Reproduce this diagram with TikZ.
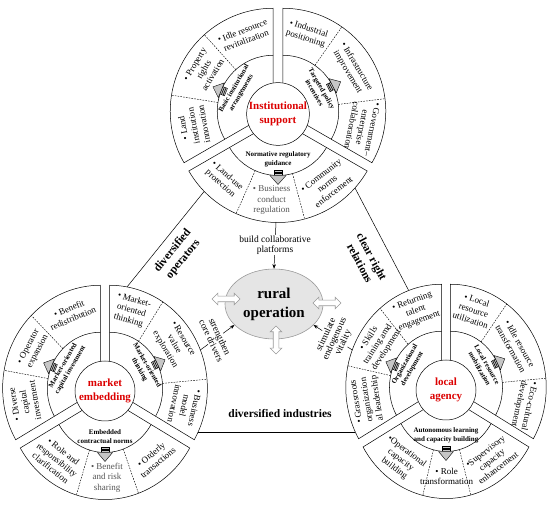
\documentclass[tikz,border=0pt]{standalone}
\usepackage{fontspec}
\setmainfont{Liberation Serif}
\usetikzlibrary{arrows.meta,shapes.arrows,shapes.geometric}
\definecolor{corered}{RGB}{220,0,0}
\definecolor{gtext}{RGB}{85,85,85}
\tikzset{
 ln/.style={line width=0.5pt},
 dshl/.style={line width=0.45pt, dash pattern=on 1.6pt off 1.2pt},
 cell/.style={font=\fontsize{9}{10.5}\selectfont, align=center, inner sep=0pt},
 midl/.style={font=\bfseries\fontsize{7}{8.5}\selectfont, align=center, inner sep=0pt},
 core/.style={circle, draw, line width=0.5pt, fill=white, minimum size=60pt, inner sep=0pt, font=\bfseries\fontsize{11}{14}\selectfont, text=corered, align=center},
 edgel/.style={font=\bfseries\fontsize{11.5}{13.5}\selectfont, align=center, inner sep=1pt},
 conl/.style={font=\fontsize{9.5}{9.5}\selectfont, align=center, fill=white, inner sep=1pt},
 conn/.style={line width=0.5pt, -{Stealth[length=4.5pt,width=3.5pt]}},
 tri/.style={line width=0.5pt},
 arrfill/.style={fill=gray!45, draw=black, line width=0.4pt},
 darr/.style={double arrow, draw=gray!80, fill=white, line width=0.6pt, minimum height=28pt, inner sep=2.5pt, double arrow head extend=3pt},
}
\def\RI{20pt}\def\RM{56pt}\def\RO{103pt}\def\DD{5.5pt}
\newcommand{\sect}[2]{%
 \draw[ln, fill=white] (#1:\RI) -- (#1:\RO) arc[start angle=#1, end angle=#2, radius=\RO] -- (#2:\RI) arc[start angle=#2, end angle=#1, radius=\RI] -- cycle;
 \draw[ln] (#1:\RM) arc[start angle=#1, end angle=#2, radius=\RM];}
\newcommand{\dline}[1]{\draw[dshl] (#1:\RM) -- (#1:\RO);}
\newcommand{\barrow}[1]{\begin{scope}[rotate=#1, shift={(\RM,0pt)}]
 \filldraw[arrfill] (-5pt,-4pt) rectangle (0pt,4pt);
 \draw[line width=0.6pt] (-3.5pt,-4pt) -- (-3.5pt,4pt) (-1.7pt,-4pt) -- (-1.7pt,4pt);
 \filldraw[arrfill] (0pt,-8pt) -- (9pt,0pt) -- (0pt,8pt) -- cycle;
\end{scope}}
\begin{document}
\begin{tikzpicture}[x=1pt,y=1pt]
\useasboundingbox (0,0) rectangle (550,507);
% connector end points
\coordinate (e1a) at (204.2,315.6);
\coordinate (e1b) at (127,220);
\coordinate (e2a) at (355,319);
\coordinate (e2b) at (408.7,216.5);
\coordinate (e3a) at (198.1,75);
\coordinate (e3b) at (355.3,75);
\coordinate (tb) at (276,285);
\coordinate (sl) at (200.3,157);
\coordinate (sr) at (352.3,157);
\draw[tri] (e1a) -- (e1b);
\draw[tri] (e2a) -- (e2b);
\draw[tri] (e3a) -- (e3b);

%================ TOP CLUSTER
\begin{scope}[shift={(278,393)}]
 \begin{scope}[shift={(150:\DD)}]
  \sect{90}{210}\dline{132}\dline{171}
  \node[cell, rotate=21] (a1) at (111:81pt) {• Idle resource\\revitalization};
  \node[cell, rotate=59] (a2) at (149:81pt) {• Property\\rights\\activation};
  \node[cell, rotate=100.5] (a3) at (190.5:81pt) {• Land\\institution\\innovation};
  \node[midl, rotate=60] (a4) at (150:41pt) {Basic institutional\\arrangements};
  \barrow{158}
 \end{scope}
 \begin{scope}[shift={(30:\DD)}]
  \sect{-30}{90}\dline{55}\dline{7}
  \node[cell, rotate=-17.5] (a5) at (72.5:81pt) {• Industrial\\positioning};
  \node[cell, rotate=-59] (a6) at (31:81pt) {• Infrastructure\\improvement};
  \node[cell, rotate=-101.5] (a7) at (-11.5:81pt) {• Government–\\enterprise\\collaboration};
  \node[midl, rotate=-60] (a8) at (30:41pt) {Targeted policy\\incentives};
  \barrow{27}
 \end{scope}
 \begin{scope}[shift={(270:\DD)}]
  \sect{210}{330}\dline{246}\dline{285}
  \node[cell, rotate=-42] (a9) at (228:81pt) {• Land-use\\protection};
  \node[cell, text=gtext] (a10) at (265.5:81pt) {• Business\\conduct\\regulation};
  \node[cell, rotate=37.5] (a11) at (307.5:81pt) {• Community\\norms\\enforcement};
  \node[midl] (a12) at (270:40pt) {Normative regulatory\\guidance};
  \barrow{270}
 \end{scope}
 \node[core] (A) at (0,0) {Institutional\\support};
\end{scope}

%================ LEFT CLUSTER
\begin{scope}[shift={(105,116)}, xscale=0.95]
 \begin{scope}[shift={(150:\DD)}]
  \sect{90}{210}\dline{135}\dline{170}
  \node[cell, rotate=22.5] (b1) at (112.5:81pt) {• Benefit\\redistribution};
  \node[cell, rotate=62.5] (b2) at (151:81pt) {• Operator\\expansion};
  \node[cell, rotate=100] (b3) at (190:81pt) {• Diverse\\capital\\investment};
  \node[midl, rotate=60] (b4) at (150:41pt) {Market-oriented\\capital investment};
  \barrow{157}
 \end{scope}
 \begin{scope}[shift={(30:\DD)}]
  \sect{-30}{90}\dline{57}\dline{5}
  \node[cell, rotate=-16.5] (b5) at (73.5:81pt) {• Market-\\oriented\\thinking};
  \node[cell, rotate=-59] (b6) at (33:81pt) {• Resource\\value\\exploration};
  \node[cell, rotate=-102.5] (b7) at (-12.5:81pt) {• Business\\model\\innovation};
  \node[midl, rotate=-60] (b8) at (30:41pt) {Market-oriented\\thinking};
  \barrow{26}
 \end{scope}
 \begin{scope}[shift={(270:\DD)}]
  \sect{210}{330}\dline{253}\dline{290}
  \node[cell, rotate=-38.5] (b9) at (231.5:81pt) {• Role and\\responsibility\\clarification};
  \node[cell, text=gtext] (b10) at (271.5:81pt) {• Benefit\\and risk\\sharing};
  \node[cell, rotate=40] (b11) at (310:81pt) {• Orderly\\transactions};
  \node[midl] (b12) at (270:40pt) {Embedded\\contractual norms};
  \barrow{270}
 \end{scope}
 \node[core] (B) at (0,0) {market\\embedding};
\end{scope}

%================ RIGHT CLUSTER
\begin{scope}[shift={(446,117)}, xscale=0.93]
 \begin{scope}[shift={(150:\DD)}]
  \sect{90}{210}\dline{130}\dline{168}
  \node[cell, rotate=20] (c1) at (110:81pt) {• Returning\\talent\\engagement};
  \node[cell, rotate=57] (c2) at (148:81pt) {• Skills\\training amd\\development};
  \node[cell, rotate=99] (c3) at (189:81pt) {• Grassroots\\organization\\al leadership};
  \node[midl, rotate=60] (c4) at (150:41pt) {Organizational\\development};
  \barrow{157}
 \end{scope}
 \begin{scope}[shift={(30:\DD)}]
  \sect{-30}{90}\dline{54}\dline{5}
  \node[cell, rotate=-18] (c5) at (72:81pt) {• Local\\resource\\utilization};
  \node[cell, rotate=-60.5] (c6) at (30.5:81pt) {• Idle resource\\transformation};
  \node[cell, rotate=-102.5] (c7) at (-12.5:81pt) {• Eco-cultural\\development};
  \node[midl, rotate=-60] (c8) at (30:41pt) {Local resource\\mobilization};
  \barrow{26}
 \end{scope}
 \begin{scope}[shift={(270:\DD)}]
  \sect{210}{330}\dline{256}\dline{285}
  \node[cell, rotate=-37] (c9) at (233:81pt) {•Operational\\capacity\\building};
  \node[cell] (c10) at (270.5:81pt) {• Role\\transformation};
  \node[cell, rotate=37.5] (c11) at (307.5:81pt) {•Supervisory\\capacity\\enhancement};
  \node[midl] (c12) at (270:40pt) {Autonomous learning\\and capacity building};
  \barrow{270}
 \end{scope}
 \node[core] (C) at (0,0) {local\\agency};
\end{scope}

%================ CENTRE
\node[ellipse, draw=gray!80, line width=0.6pt, fill=gray!20, minimum width=98pt, minimum height=70pt, inner sep=0pt, align=center, font=\bfseries\fontsize{15}{19}\selectfont] (E) at (274,203) {rural\\operation};
\node[darr] (dl) at (226,208) {};
\node[darr] (dr) at (327,204) {};
\node[darr, rotate=90] (dd) at (276,167) {};

\draw[conn] (tb) -- (E.north) node[conl, pos=0.5] (l1) {build collaborative\\platforms};
\draw[conn] (sl) -- (E.208) node[conl, pos=0.45, rotate=-65] (l2) {strengthen\\core drivers};
\draw[conn] (sr) -- (E.-28) node[conl, pos=0.45, rotate=65] (l3) {stimulate\\endogenous\\vitality};

\node[edgel, rotate=51] (t1) at (178,252) {diversified\\operators};
\node[edgel, rotate=-62] (t2) at (366,247) {clear right\\relations};
\node[edgel] (t3) at (280,93) {diversified industries};
\end{tikzpicture}
\end{document}
